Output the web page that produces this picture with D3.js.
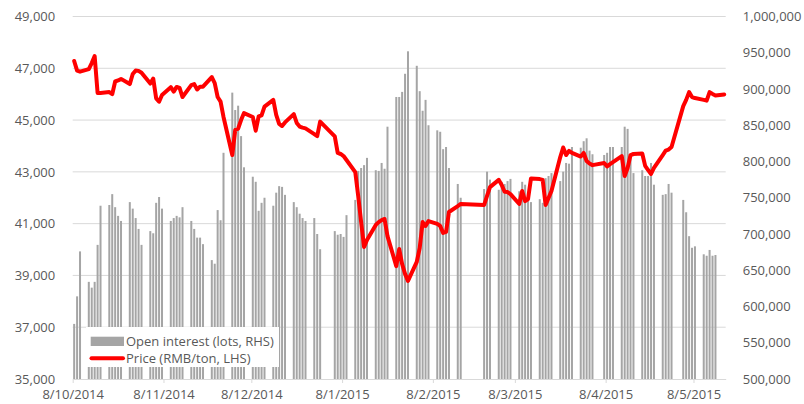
<!DOCTYPE html>
<html>
<head>
<meta charset="utf-8">
<script src="https://cdn.jsdelivr.net/npm/d3@7"></script>
<style>
  body { margin: 0; background: #fff; }
  svg { display: block; font-family: "Open Sans", sans-serif; }
</style>
</head>
<body>
<svg id="chart" width="804" height="404"></svg>
<script>
// trading days (SHFE calendar, weekends + holidays missing)
const dates = [
  "2014-10-08","2014-10-09","2014-10-10","2014-10-13","2014-10-14","2014-10-15","2014-10-16","2014-10-17",
  "2014-10-20","2014-10-21","2014-10-22","2014-10-23","2014-10-24","2014-10-27","2014-10-28","2014-10-29",
  "2014-10-30","2014-10-31",
  "2014-11-03","2014-11-04","2014-11-05","2014-11-06","2014-11-07","2014-11-10","2014-11-11","2014-11-12",
  "2014-11-13","2014-11-14","2014-11-17","2014-11-18","2014-11-19","2014-11-20","2014-11-21","2014-11-24",
  "2014-11-25","2014-11-26","2014-11-27","2014-11-28",
  "2014-12-01","2014-12-02","2014-12-03","2014-12-04","2014-12-05","2014-12-08","2014-12-09","2014-12-10",
  "2014-12-11","2014-12-12","2014-12-15","2014-12-16","2014-12-17","2014-12-18","2014-12-19","2014-12-22",
  "2014-12-23","2014-12-24","2014-12-25","2014-12-26","2014-12-29","2014-12-30","2014-12-31",
  "2015-01-05","2015-01-06","2015-01-07","2015-01-08","2015-01-09","2015-01-12","2015-01-13","2015-01-14",
  "2015-01-15","2015-01-16","2015-01-19","2015-01-20","2015-01-21","2015-01-22","2015-01-23","2015-01-26",
  "2015-01-27","2015-01-28","2015-01-29","2015-01-30",
  "2015-02-02","2015-02-03","2015-02-04","2015-02-05","2015-02-06","2015-02-09","2015-02-10","2015-02-11",
  "2015-02-12","2015-02-13","2015-02-16","2015-02-17","2015-02-25","2015-02-26","2015-02-27",
  "2015-03-02","2015-03-03","2015-03-04","2015-03-05","2015-03-06","2015-03-09","2015-03-10","2015-03-11",
  "2015-03-12","2015-03-13","2015-03-16","2015-03-17","2015-03-18","2015-03-19","2015-03-20","2015-03-23",
  "2015-03-24","2015-03-25","2015-03-26","2015-03-27","2015-03-30","2015-03-31",
  "2015-04-01","2015-04-02","2015-04-03","2015-04-07","2015-04-08","2015-04-09","2015-04-10","2015-04-13",
  "2015-04-14","2015-04-15","2015-04-16","2015-04-17","2015-04-20","2015-04-21","2015-04-22","2015-04-23",
  "2015-04-24","2015-04-27","2015-04-28","2015-04-29","2015-04-30",
  "2015-05-04","2015-05-05","2015-05-06","2015-05-07","2015-05-08","2015-05-11","2015-05-12","2015-05-13",
  "2015-05-14","2015-05-15","2015-05-18"
];

// open interest, lots (RHS)
const openInterest = [
  576000,614000,676000,634000,626000,634000,685000,739000,740000,755000,737000,725000,718000,744000,735000,722000,
  707000,685000,
  704000,701000,743000,751000,735000,718000,722000,725000,723000,737000,718000,707000,695000,695000,686000,664000,
  659000,733000,719000,812000,
  895000,871000,877000,835000,792000,779000,772000,732000,743000,750000,739000,757000,766000,765000,754000,744000,
  737000,728000,722000,718000,722000,700000,679000,
  704000,699000,700000,696000,726000,747000,787000,791000,795000,805000,788000,787000,798000,790000,848000,889000,
  889000,896000,921000,952000,
  932000,897000,870000,885000,850000,843000,841000,817000,820000,791000,769000,750000,762000,786000,775000,
  761000,772000,769000,773000,776000,759000,772000,768000,750000,744000,748000,743000,777000,780000,784000,773000,
  786000,798000,797000,820000,819000,828000,
  832000,815000,810000,809000,812000,820000,820000,820000,848000,845000,805000,784000,788000,780000,780000,798000,
  768000,754000,755000,769000,757000,
  747000,730000,697000,681000,683000,672000,670000,678000,670000,671000,null
];

// price, RMB/ton (LHS)
const price = [
  47280,46910,46870,46970,47200,47470,46050,46050,46080,46000,46490,46530,46590,46390,46780,46910,
  46900,46830,
  46410,46600,45840,45710,45970,46270,46100,46280,46240,45890,46350,46390,46180,46290,46290,46660,
  46430,45890,45710,45120,
  43650,44620,44670,45000,45270,45120,44590,45140,45180,45520,45780,45200,44850,44770,44910,45230,
  44890,44750,44710,44680,44460,44380,44940,
  44370,43730,43690,43610,43460,42990,42070,41060,40100,40370,40950,41060,41140,41180,40520,39360,
  40020,39440,39060,38790,
  39520,40060,41060,40910,41100,40990,40910,40640,40680,41450,41680,41760,41720,42070,42410,
  42690,42490,42230,42220,42140,41760,42260,41870,41950,42740,42720,42690,41720,41990,42260,43570,
  43940,43650,43810,43730,43590,43730,
  43420,43320,43260,43340,43210,43300,43380,43610,42840,43150,43650,43690,43710,43230,43070,42920,
  43150,43650,43820,43860,43960,
  45540,45780,46080,45890,45850,45780,45750,46080,46010,45950,45990
];

const priceTicks = [35000, 37000, 39000, 41000, 43000, 45000, 47000, 49000];
const oiTicks = [500000, 550000, 600000, 650000, 700000, 750000, 800000, 850000, 900000, 950000, 1000000];
const monthTicks = ["2014-10-08","2014-11-08","2014-12-08","2015-01-08","2015-02-08","2015-03-08","2015-04-08","2015-05-08"];

const parse = d3.utcParse("%Y-%m-%d");
const fmtDate = d3.utcFormat("%-d/%-m/%Y");
const rows = dates.map((d, i) => ({ date: parse(d), oi: openInterest[i], price: price[i] }));

const plotLeft = 72.7, plotRight = 725.7, plotTop = 16.5, plotBottom = 379;
const svg = d3.select("#chart");

const x = d3.scaleUtc()
  .domain([rows[0].date, d3.utcDay.offset(rows[rows.length - 1].date, 1)])
  .range([plotLeft, plotRight]);
const yL = d3.scaleLinear().domain([35000, 49000]).range([plotBottom, plotTop]);
const yR = d3.scaleLinear().domain([500000, 1000000]).range([plotBottom, plotTop]);
const slot = x(d3.utcDay.offset(rows[0].date, 1)) - x(rows[0].date);
const barW = 2;

// gridlines
svg.append("g").selectAll("line")
  .data(priceTicks.slice(1))
  .join("line")
  .attr("x1", plotLeft).attr("x2", plotRight)
  .attr("y1", d => yL(d)).attr("y2", d => yL(d))
  .attr("stroke", "#d9d9d9").attr("stroke-width", 1);

// bars
svg.append("g").selectAll("rect")
  .data(rows.filter(d => d.oi != null))
  .join("rect")
  .attr("x", d => x(d.date) + (slot - barW) / 2)
  .attr("y", d => yR(d.oi))
  .attr("width", barW)
  .attr("height", d => plotBottom - yR(d.oi))
  .attr("fill", "#a5a5a5");

// price line
const line = d3.line()
  .x(d => x(d.date) + slot / 2)
  .y(d => yL(d.price));
svg.append("path")
  .datum(rows)
  .attr("d", line)
  .attr("fill", "none")
  .attr("stroke", "#ff0000")
  .attr("stroke-width", 4)
  .attr("stroke-linejoin", "round")
  .attr("stroke-linecap", "round");

// axes
const styleAxis = g => {
  g.selectAll("text").attr("fill", "#595959").attr("font-size", 13).attr("font-family", "Open Sans");
  g.selectAll(".tick line").attr("stroke", "#d9d9d9");
  g.select(".domain").attr("stroke", "#d9d9d9");
};

svg.append("g")
  .attr("transform", `translate(${plotLeft},0)`)
  .call(d3.axisLeft(yL).tickValues(priceTicks).tickSize(0).tickPadding(17.5).tickFormat(d3.format(",")))
  .call(g => g.select(".domain").remove())
  .call(styleAxis);

svg.append("g")
  .attr("transform", `translate(${plotRight},0)`)
  .call(d3.axisRight(yR).tickValues(oiTicks).tickSize(0).tickPadding(17).tickFormat(d3.format(",")))
  .call(g => g.select(".domain").remove())
  .call(styleAxis);

svg.append("g")
  .attr("transform", `translate(0,${plotBottom})`)
  .call(d3.axisBottom(x).tickValues(monthTicks.map(parse)).tickSizeInner(4).tickSizeOuter(0)
    .tickPadding(6.5).tickFormat(fmtDate))
  .call(styleAxis);

// legend
const lg = svg.append("g");
lg.append("rect").attr("x", 86).attr("y", 327).attr("width", 193).attr("height", 40).attr("fill", "#fff");
lg.append("rect").attr("x", 90.7).attr("y", 336.7).attr("width", 33.3).attr("height", 9.3).attr("fill", "#a5a5a5");
lg.append("line").attr("x1", 91.5).attr("x2", 123).attr("y1", 358.3).attr("y2", 358.3)
  .attr("stroke", "#ff0000").attr("stroke-width", 4).attr("stroke-linecap", "round");
lg.selectAll("text")
  .data(["Open interest (lots, RHS)", "Price (RMB/ton, LHS)"])
  .join("text")
  .attr("x", 126)
  .attr("y", (d, i) => 346 + i * 16.7)
  .attr("fill", "#595959")
  .attr("font-size", 13)
  .text(d => d);
</script>
</body>
</html>
